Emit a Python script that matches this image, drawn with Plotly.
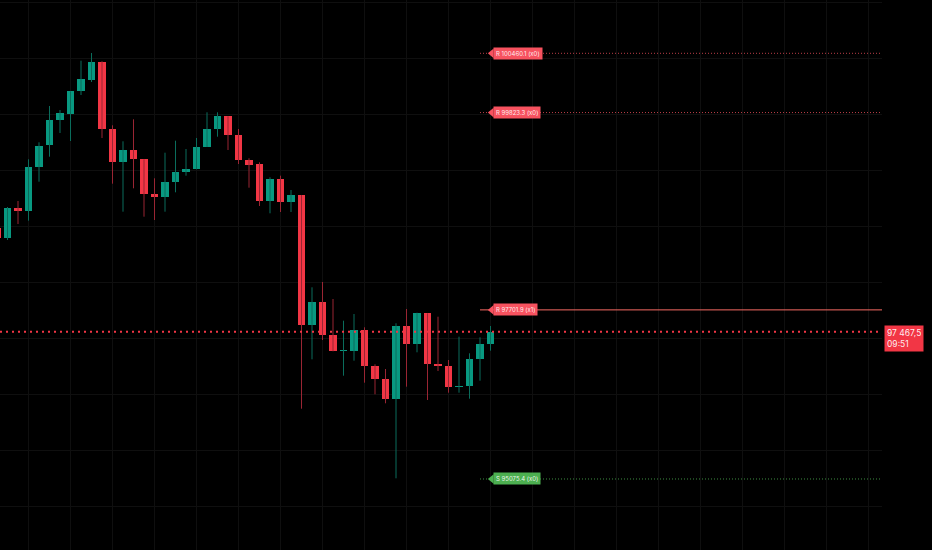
import plotly.graph_objects as go

# ---------------- data ----------------
opens = [98585.3, 98477.8, 98797.1, 98768.1, 99241.1, 99471.1, 99739.9, 99810.8, 100051.6, 100176.3,
         100369.8, 99646.4, 99294.8, 99420.6, 99320.6, 98944.4, 98918.6, 99079.8, 99184.1, 99213.1,
         99452.9, 99646.4, 99782.9, 99578.6, 99313.1, 99266.9, 98875.6, 99108.9, 98861.6, 98936.9,
         97539.4, 97783.4, 97431.9, 97256.6, 97256.6, 97488.8, 97098.6, 96955.6, 96743.9, 97528.6,
         97338.3, 97665.1, 97123.3, 97101.8, 96872.9, 96883.6, 97170.6, 97338.3]
highs = [98603.6, 98807.9, 98872.4, 99320.6, 99503.4, 99893.6, 99850.6, 100051.6, 100380.6, 100463.4,
         100375.0, 99686.1, 99514.1, 99750.6, 99320.6, 99116.4, 99391.6, 99520.6, 99431.4, 99549.6,
         99825.9, 99825.9, 99782.9, 99646.4, 99331.4, 99288.4, 99127.1, 99144.3, 98990.6, 98936.9,
         97944.6, 98001.6, 97818.9, 97585.6, 97657.6, 97514.6, 97116.9, 97066.4, 97557.6, 97711.4,
         97671.6, 97665.1, 97628.6, 97163.1, 97413.6, 97235.1, 97407.1, 97528.6]
lows = [98453.1, 98453.1, 98625.1, 98660.6, 99079.8, 99348.6, 99603.4, 99517.4, 100011.9, 100151.6,
        99549.6, 99058.3, 98757.3, 99008.9, 98703.6, 98668.1, 98757.3, 98965.9, 99144.3, 99213.1,
        99452.9, 99563.6, 99420.6, 99270.1, 99015.3, 98818.6, 98740.1, 98754.1, 98754.1, 96639.6,
        97170.6, 97378.1, 97256.6, 96994.3, 97155.6, 96919.1, 96794.4, 96697.6, 95891.4, 96876.1,
        97245.9, 96733.1, 97044.9, 96811.6, 96811.6, 96747.1, 96940.6, 97263.1]
closes = [98477.8, 98800.3, 98768.1, 99241.1, 99466.8, 99739.9, 99815.1, 100051.6, 100180.6, 100369.8,
          99646.4, 99294.8, 99420.6, 99320.6, 98944.4, 98918.6, 99079.8, 99184.1, 99216.4, 99452.9,
          99646.4, 99782.9, 99578.6, 99313.1, 99264.7, 98875.6, 99108.9, 98861.6, 98936.9, 97539.4,
          97783.4, 97431.9, 97256.6, 97270.6, 97485.6, 97098.6, 96955.6, 96743.9, 97528.6, 97338.3,
          97671.6, 97123.3, 97101.8, 96869.6, 96883.6, 97170.6, 97338.3, 97467.5]
bar_index = list(range(len(opens)))

resist_levels = [100460.1, 99823.3, 97701.9]
resist_labels = ["R 100460.1 (x0)", "R 99823.3 (x0)", "R 97701.9 (x1)"]
resist_solid = [False, False, True]
support_level = 95884.0
support_label = "S 95075.4 (x0)"
last_price = 97467.5
last_price_text = "97 467,5"
countdown_text = "09:51"
grid_prices = [101008.4, 100406.4, 99804.4, 99202.4, 98600.4, 97998.4, 97396.4, 96794.4, 96192.4, 95590.4]

# ---------------- style ----------------
UP, DOWN = "#089981", "#f23645"
UP_WICK, DOWN_WICK = "#0a6d5c", "#9a2533"
RES_COL, SUP_COL = "#f7525f", "#4caf50"
BG, GRID = "#000000", "#0f0f0f"
FONT = "Inter"
X_MIN, X_MAX = 0.2857, 84.2857
Y_MIN, Y_MAX = 95120.6, 101033.1
LINE_X0 = 46.0
LABEL_X = 47.25
TIP_X = 46.75
HALF_H = 52.0

fig = go.Figure()

# wicks
for up, col in ((True, UP_WICK), (False, DOWN_WICK)):
    xs, ys = [], []
    for i, o, h, l, c in zip(bar_index, opens, highs, lows, closes):
        if (c >= o) == up:
            xs += [i, i, None]
            ys += [l, h, None]
    fig.add_trace(go.Scatter(x=xs, y=ys, mode="lines", line=dict(color=col, width=1),
                             hoverinfo="skip", showlegend=False))

# bodies
bases = [min(o, c) for o, c in zip(opens, closes)]
heights = [max(abs(c - o), 11.0) for o, c in zip(opens, closes)]
colors = [UP if c >= o else DOWN for o, c in zip(opens, closes)]
fig.add_trace(go.Bar(x=bar_index, y=heights, base=bases, width=0.76,
                     marker=dict(color=colors, line=dict(width=0)),
                     hoverinfo="skip", showlegend=False))

shapes = []
annotations = []

# resistance lines
for lvl, txt, solid in zip(resist_levels, resist_labels, resist_solid):
    shapes.append(dict(type="line", xref="x", yref="y", x0=LINE_X0, x1=X_MAX, y0=lvl, y1=lvl,
                       line=dict(color="#f76a64" if solid else "rgba(247,82,95,0.75)", width=1,
                                 dash="solid" if solid else "1px,2px"), layer="above"))
    shapes.append(dict(type="path", xref="x", yref="y",
                       path=f"M {TIP_X},{lvl} L {LABEL_X + 0.05},{lvl + HALF_H} L {LABEL_X + 0.05},{lvl - HALF_H} Z",
                       fillcolor=RES_COL, line=dict(width=0), layer="above"))
    annotations.append(dict(x=LABEL_X, y=lvl, xref="x", yref="y", xanchor="left", yanchor="middle",
                            text=txt, showarrow=False, bgcolor=RES_COL, borderpad=2,
                            font=dict(family=FONT, size=6, color="rgba(255,255,255,0.9)")))

# support line
shapes.append(dict(type="line", xref="x", yref="y", x0=LINE_X0, x1=X_MAX, y0=support_level, y1=support_level,
                   line=dict(color="rgba(76,175,80,0.8)", width=1, dash="1px,2px"), layer="above"))
shapes.append(dict(type="path", xref="x", yref="y",
                   path=f"M {TIP_X},{support_level} L {LABEL_X + 0.05},{support_level + HALF_H} L {LABEL_X + 0.05},{support_level - HALF_H} Z",
                   fillcolor=SUP_COL, line=dict(width=0), layer="above"))
annotations.append(dict(x=LABEL_X, y=support_level, xref="x", yref="y", xanchor="left", yanchor="middle",
                        text=support_label, showarrow=False, bgcolor=SUP_COL, borderpad=2,
                        font=dict(family=FONT, size=6, color="rgba(255,255,255,0.9)")))

# last price line + label
shapes.append(dict(type="line", xref="paper", yref="y", x0=0, x1=1, y0=last_price, y1=last_price,
                   line=dict(color=DOWN, width=2, dash="2px,4px"), layer="above"))
annotations.append(dict(x=1.0025, y=last_price, xref="paper", yref="y", xanchor="left", yanchor="top",
                        yshift=7, text=f"{last_price_text}<br>{countdown_text}", showarrow=False,
                        align="left", bgcolor=DOWN, borderpad=2, width=34,
                        font=dict(family=FONT, size=8.5, color="rgba(255,255,255,0.92)")))

fig.update_layout(
    width=932, height=550, autosize=False,
    margin=dict(l=0, r=50, t=0, b=0, pad=0),
    paper_bgcolor=BG, plot_bgcolor=BG,
    showlegend=False, bargap=0,
    shapes=shapes, annotations=annotations,
    xaxis=dict(range=[X_MIN, X_MAX], showticklabels=False, ticks="", zeroline=False,
               showgrid=True, gridcolor=GRID, gridwidth=1,
               tickvals=list(range(3, 84, 4)), showline=False, fixedrange=True),
    yaxis=dict(range=[Y_MIN, Y_MAX], showticklabels=False, ticks="", zeroline=False,
               showgrid=True, gridcolor=GRID, gridwidth=1, tickvals=grid_prices,
               showline=False, side="right", fixedrange=True),
)

fig.write_html("out.html", config={"displayModeBar": False, "staticPlot": True},
               post_script="document.body.style.margin='0';document.body.style.overflow='hidden';")
